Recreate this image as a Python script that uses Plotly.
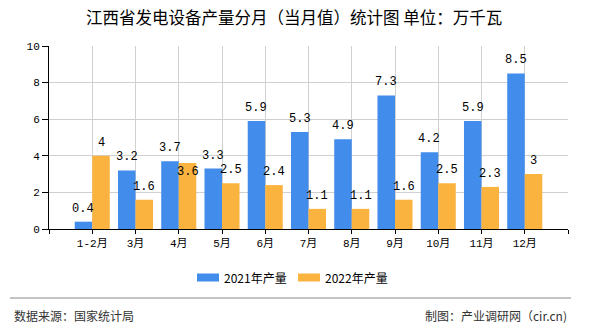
import plotly.graph_objects as go

categories = ["1-2月", "3月", "4月", "5月", "6月", "7月", "8月", "9月", "10月", "11月", "12月"]
values_2021 = [0.4, 3.2, 3.7, 3.3, 5.9, 5.3, 4.9, 7.3, 4.2, 5.9, 8.5]
values_2022 = [4, 1.6, 3.6, 2.5, 2.4, 1.1, 1.1, 1.6, 2.5, 2.3, 3]
series_names = ["2021年产量", "2022年产量"]
y_ticks = [0, 2, 4, 6, 8, 10]

BLUE = "#428CEB"
ORANGE = "#FBB340"
W, H = 590, 330
L, R, T, B = 49, 568, 46, 229
BARGAP = 0.19

def px(x):
    return (x - L) / (R - L)

def py(y):
    return (B - y) / (B - T)

xs = list(range(len(categories)))
fig = go.Figure()
fig.add_trace(go.Bar(x=xs, y=values_2021, name=series_names[0], marker_color=BLUE,
                     marker_line_width=0, showlegend=False))
fig.add_trace(go.Bar(x=xs, y=values_2022, name=series_names[1], marker_color=ORANGE,
                     marker_line_width=0, showlegend=False))

num_font = dict(family="Liberation Mono, DejaVu Sans Mono, monospace", size=12, color="#000")
off = (1 - BARGAP) / 4
annotations = []
for i, v in enumerate(values_2021):
    annotations.append(dict(x=i - off, y=v, xref="x", yref="y", text=f"{v:g}", showarrow=False,
                            yshift=13, font=num_font))
for i, v in enumerate(values_2022):
    # when the neighbouring label would collide, the label sits just inside the bar top
    clash = abs(v - values_2021[i]) < 0.5
    annotations.append(dict(x=i + off, y=v, xref="x", yref="y", text=f"{v:g}", showarrow=False,
                            yshift=-9 if clash else 13, font=num_font))

# title
annotations.append(dict(x=px(294), y=py(17), xref="paper", yref="paper", text="江西省发电设备产量分月（当月值）统计图 单位：万千瓦",
                        showarrow=False, xanchor="center", yanchor="middle",
                        font=dict(family="Noto Sans CJK SC", size=16.5, color="#000")))
# legend
leg_font = dict(family="Noto Sans CJK SC", size=12, color="#000")
shapes = []
for (x0, color, name) in [(197, BLUE, series_names[0]), (298, ORANGE, series_names[1])]:
    shapes.append(dict(type="rect", xref="paper", yref="paper", x0=px(x0), x1=px(x0 + 22),
                       y0=py(281.5), y1=py(273.5), fillcolor=color, line_width=0))
    annotations.append(dict(x=px(x0 + 25), y=py(277.5), xref="paper", yref="paper", text=name,
                            showarrow=False, xanchor="left", yanchor="middle", font=leg_font))
# footer
shapes.append(dict(type="line", xref="paper", yref="paper", x0=px(10), x1=px(571), y0=py(298), y1=py(298),
                   line=dict(color="#888", width=1)))
foot_font = dict(family="Noto Sans CJK SC", size=12, color="#333")
annotations.append(dict(x=px(12), y=py(315), xref="paper", yref="paper", text="数据来源：国家统计局",
                        showarrow=False, xanchor="left", yanchor="middle", font=foot_font))
annotations.append(dict(x=px(569), y=py(315), xref="paper", yref="paper", text="制图：产业调研网（cir.cn)",
                        showarrow=False, xanchor="right", yanchor="middle", font=foot_font))

fig.update_layout(
    width=W, height=H,
    margin=dict(l=L, r=W - R, t=T, b=H - B, pad=0),
    paper_bgcolor="white", plot_bgcolor="white",
    barmode="group", bargap=BARGAP, bargroupgap=0,
    annotations=annotations, shapes=shapes,
    font=dict(family="Liberation Mono, Noto Sans CJK SC", size=11, color="#000"),
)
fig.update_xaxes(
    range=[-1, len(categories)], tickmode="array",
    tickvals=list(range(-1, len(categories) + 1)),
    ticktext=[""] + categories + [""],
    showgrid=True, gridcolor="#d0d0d0", gridwidth=1,
    showline=True, linecolor="#000", linewidth=1,
    ticks="outside", ticklen=4, tickcolor="#000",
    tickfont=dict(family="Liberation Mono, Noto Sans CJK SC", size=11, color="#000"),
    zeroline=False, fixedrange=True,
)
fig.update_yaxes(
    range=[0, 10], tickmode="array", tickvals=y_ticks,
    showgrid=True, gridcolor="#d0d0d0", gridwidth=1,
    showline=True, linecolor="#000", linewidth=1,
    ticks="outside", ticklen=6, tickcolor="#000",
    tickfont=dict(family="Liberation Mono, Noto Sans CJK SC", size=11, color="#000"),
    zeroline=False, fixedrange=True,
)
fig.write_html("out.html")
